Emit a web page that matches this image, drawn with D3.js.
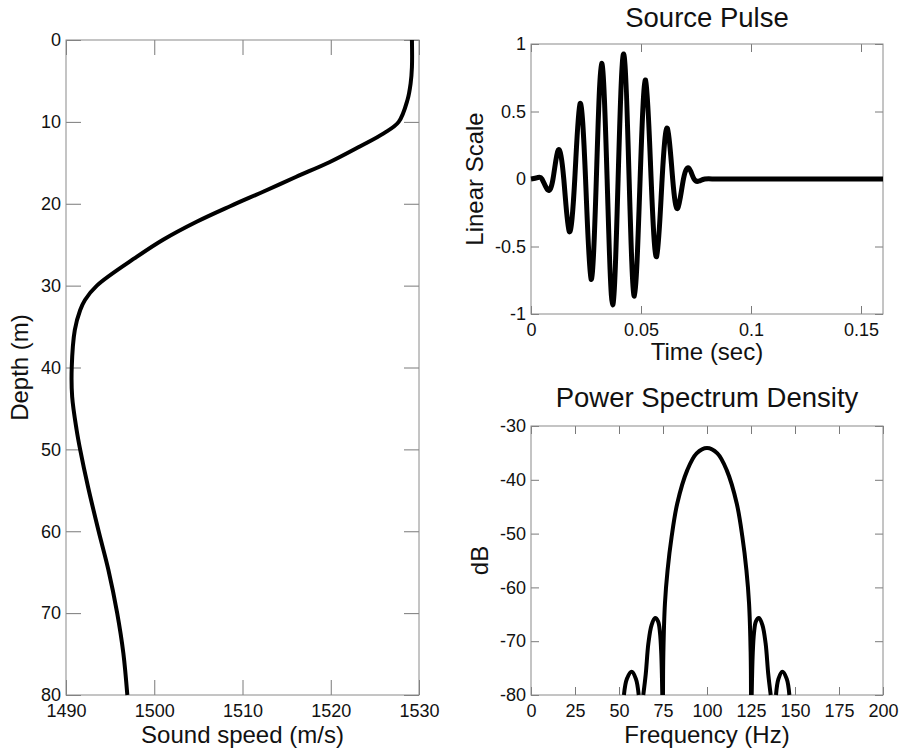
<!DOCTYPE html>
<html>
<head>
<meta charset="utf-8">
<script src="https://cdn.jsdelivr.net/npm/d3@7"></script>
<style>
  body { margin: 0; background: #fff; }
  text { font-family: "Liberation Sans", Arial, Helvetica, sans-serif; fill: #111; }
  .tick line { stroke: #7a7a7a; }
  .box { fill: none; stroke: #8a8a8a; stroke-width: 1; }
</style>
</head>
<body>
<script>
// sound speed profile
var depth = [0, 3.3, 5.3, 7.3, 10, 11.4, 13, 14.9, 16.7, 18.5, 20.3, 22.2, 24.4, 26.5, 30, 31.75, 33, 35.4, 40, 43.6, 47.6, 50, 54.6, 60, 64.7, 70, 74.9, 80];
var speed = [1529.2, 1529.2, 1529.05, 1528.7, 1527.7, 1526, 1523.3, 1519.9, 1516.1, 1512.4, 1508.6, 1504.8, 1501.0, 1498.0, 1493.5, 1492.15, 1491.6, 1491.0, 1490.65, 1490.7, 1491.2, 1491.6, 1492.5, 1493.7, 1494.8, 1495.8, 1496.5, 1496.95];

// source pulse: extrema and zero crossings
var pulseTime = [0, 0.003, 0.005, 0.0076, 0.0100, 0.0124, 0.0149, 0.0174, 0.0199, 0.0223, 0.0248, 0.0273, 0.0297, 0.0321, 0.0346, 0.0371, 0.0396, 0.0421, 0.0446, 0.047, 0.0496, 0.0521, 0.0546, 0.0571, 0.0596, 0.062, 0.0644, 0.0667, 0.0693, 0.0718, 0.0741, 0.0764, 0.079, 0.085, 0.1, 0.12, 0.14, 0.16];
var pulseAmp = [0, 0.01, 0, -0.081, 0, 0.215, 0, -0.39, 0, 0.56, 0, -0.743, 0, 0.857, 0, -0.933, 0, 0.926, 0, -0.867, 0, 0.733, 0, -0.575, 0, 0.375, 0, -0.217, 0, 0.079, 0, -0.015, 0, 0, 0, 0, 0, 0];

// power spectrum density lobes (null = break between lobes)
var psdFreq = [52.8, 54.5, 57.2, 59.6, 61.2, 62.5,
  63.8, 65.2, 66.7, 68.5, 70.5, 72.2, 73.3, 74.0, 74.6, 74.8,
  75.0, 75.2, 76.1, 77.6, 79.9, 83.1, 88.8, 94.1, 100, 105.9, 111.2, 116.9, 120.1, 122.4, 123.9, 124.8, 125.0, 125.2,
  125.4, 126.0, 126.7, 127.8, 129.5, 131.5, 133.3, 134.8, 136.2, 137.7,
  139.2, 140.6, 142.8, 145.3, 146.8];
var psdDb = [-80, -77.0, -75.7, -77.0, -80, null,
  -80, -76.1, -70.4, -67.0, -65.7, -66.3, -68.5, -72.2, -80, null,
  -80, -72.2, -63.0, -56.8, -50.6, -44.4, -38.2, -35.1, -34.1, -35.1, -38.2, -44.4, -50.6, -56.8, -63.0, -72.2, -80, null,
  -80, -72.2, -68.5, -66.3, -65.7, -67.0, -70.4, -76.1, -80, null,
  -80, -77.0, -75.7, -77.0, -80];

var speedTicks = [1490, 1500, 1510, 1520, 1530];
var depthTicks = [0, 10, 20, 30, 40, 50, 60, 70, 80];
var timeTicks = [0, 0.05, 0.1, 0.15];
var ampTicks = [-1, -0.5, 0, 0.5, 1];
var freqTicks = [0, 25, 50, 75, 100, 125, 150, 175, 200];
var dbTicks = [-80, -70, -60, -50, -40, -30];

var svg = d3.select("body").append("svg")
    .attr("width", 901)
    .attr("height", 750);

// plain labels, hyphen for minus like the original
function plain(d) { return String(d); }

function makePanel(p) {
  var x = d3.scaleLinear().domain(p.xDomain).range([p.left, p.right]);
  var y = d3.scaleLinear().domain(p.yDomain).range([p.bottom, p.top]);
  if (p.yReverse) y.range([p.top, p.bottom]);

  var g = svg.append("g");

  g.append("g")
      .attr("transform", "translate(0," + p.bottom + ")")
      .call(d3.axisBottom(x).tickValues(p.xTicks).tickFormat(plain).tickSizeInner(-p.tick).tickSizeOuter(0).tickPadding(9))
      .call(function(a) { a.select(".domain").remove(); });
  g.append("g")
      .attr("transform", "translate(0," + p.top + ")")
      .call(d3.axisTop(x).tickValues(p.xTicks).tickSizeInner(-p.tick).tickSizeOuter(0).tickFormat(""))
      .call(function(a) { a.select(".domain").remove(); });
  g.append("g")
      .attr("transform", "translate(" + p.left + ",0)")
      .call(d3.axisLeft(y).tickValues(p.yTicks).tickFormat(plain).tickSizeInner(-p.tick).tickSizeOuter(0).tickPadding(5))
      .call(function(a) { a.select(".domain").remove(); });
  g.append("g")
      .attr("transform", "translate(" + p.right + ",0)")
      .call(d3.axisRight(y).tickValues(p.yTicks).tickSizeInner(-p.tick).tickSizeOuter(0).tickFormat(""))
      .call(function(a) { a.select(".domain").remove(); });

  g.selectAll(".tick text")
      .attr("fill", "#111")
      .style("font-size", "18px")
      .style("font-family", "'Liberation Sans', Arial, sans-serif");

  g.append("rect")
      .attr("class", "box")
      .attr("x", p.left)
      .attr("y", p.top)
      .attr("width", p.right - p.left)
      .attr("height", p.bottom - p.top);

  if (p.title) {
    g.append("text")
        .attr("x", (p.left + p.right) / 2)
        .attr("y", p.titleY)
        .attr("text-anchor", "middle")
        .style("font-size", "27.5px")
        .text(p.title);
  }

  g.append("text")
      .attr("x", (p.left + p.right) / 2)
      .attr("y", p.xLabelY)
      .attr("text-anchor", "middle")
      .style("font-size", "24px")
      .text(p.xLabel);

  g.append("text")
      .attr("transform", "translate(" + p.yLabelX + "," + ((p.top + p.bottom) / 2) + ") rotate(-90)")
      .attr("text-anchor", "middle")
      .style("font-size", "24px")
      .text(p.yLabel);

  return [x, y, g];
}

// sound speed profile
var left = makePanel({
  left: 66, right: 419, top: 40, bottom: 695, tick: 15,
  xDomain: [1490, 1530], yDomain: [0, 80], yReverse: true,
  xTicks: speedTicks, yTicks: depthTicks,
  xLabel: "Sound speed (m/s)", xLabelY: 743,
  yLabel: "Depth (m)", yLabelX: 28
});

var profile = d3.line()
    .x(function(d, i) { return left[0](speed[i]); })
    .y(function(d, i) { return left[1](depth[i]); })
    .curve(d3.curveCatmullRom.alpha(0.5));

left[2].append("path")
    .attr("d", profile(depth))
    .attr("fill", "none")
    .attr("stroke", "#000")
    .attr("stroke-width", 4);

// source pulse
var pulse = makePanel({
  left: 531, right: 883, top: 44, bottom: 314, tick: 8,
  xDomain: [0, 0.16], yDomain: [-1, 1],
  xTicks: timeTicks, yTicks: ampTicks,
  title: "Source Pulse", titleY: 27,
  xLabel: "Time (sec)", xLabelY: 360,
  yLabel: "Linear Scale", yLabelX: 483
});

var pulseLine = d3.line()
    .x(function(d, i) { return pulse[0](pulseTime[i]); })
    .y(function(d, i) { return pulse[1](pulseAmp[i]); })
    .curve(d3.curveNatural);

pulse[2].append("path")
    .attr("d", pulseLine(pulseTime))
    .attr("fill", "none")
    .attr("stroke", "#000")
    .attr("stroke-width", 5)
    .attr("stroke-linejoin", "round");

// power spectrum density
var psd = makePanel({
  left: 531, right: 883, top: 426, bottom: 695, tick: 8,
  xDomain: [0, 200], yDomain: [-80, -30],
  xTicks: freqTicks, yTicks: dbTicks,
  title: "Power Spectrum Density", titleY: 407,
  xLabel: "Frequency (Hz)", xLabelY: 743,
  yLabel: "dB", yLabelX: 488
});

var psdLine = d3.line()
    .defined(function(d, i) { return psdDb[i] !== null; })
    .x(function(d, i) { return psd[0](psdFreq[i]); })
    .y(function(d, i) { return psd[1](psdDb[i]); })
    .curve(d3.curveCatmullRom.alpha(0.5));

psd[2].append("path")
    .attr("d", psdLine(psdFreq))
    .attr("fill", "none")
    .attr("stroke", "#000")
    .attr("stroke-width", 4);
</script>
</body>
</html>
